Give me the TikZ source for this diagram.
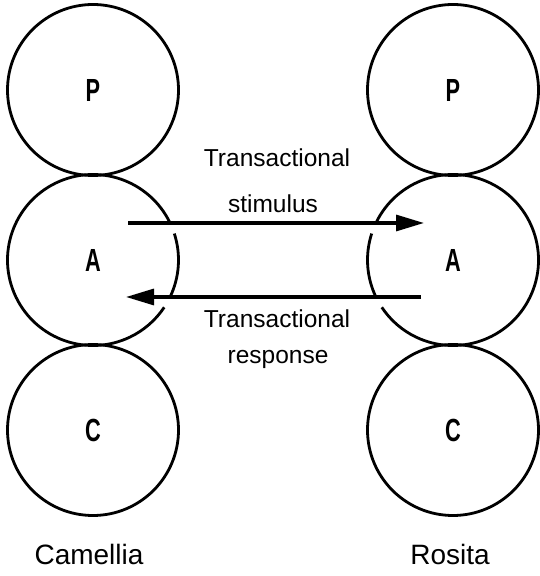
\documentclass[tikz,border=0pt]{standalone}
\usepackage{fontspec}
\usepackage{graphicx}
\setmainfont{Liberation Sans}
\usetikzlibrary{arrows.meta}
\newcommand\egolab[1]{\scalebox{0.68}[1]{\fontsize{32}{32}\selectfont\bfseries #1}}
\begin{document}
\begin{tikzpicture}[x=1pt,y=1pt,
  ego/.style={circle, draw, line width=2.8pt, minimum size=171pt, inner sep=0pt},
  egoA/.style={circle, minimum size=171pt, inner sep=0pt},
  arcline/.style={line width=2.8pt},
  trans/.style={line width=3.2pt, -{Triangle[length=28pt,width=16pt]}},
  midtext/.style={anchor=base, inner sep=0pt, font=\fontsize{24.5}{24.5}\selectfont},
  nametext/.style={anchor=base, inner sep=0pt, font=\fontsize{28}{28}\selectfont}
]
\useasboundingbox (0,0) rectangle (539,576);

% Camellia
\node[ego]  (Pl) at (93,486) {\egolab{P}};
\node[egoA] (Al) at (93,316) {\egolab{A}};
\node[ego]  (Cl) at (93,146) {\egolab{C}};
% Rosita
\node[ego]  (Pr) at (453,486) {\egolab{P}};
\node[egoA] (Ar) at (453,316) {\egolab{A}};
\node[ego]  (Cr) at (453,146) {\egolab{C}};

% broken A circles
\draw[arcline] ([shift={(25.8:85.5)}]Al.center) arc[start angle=25.8, end angle=326.4, radius=85.5];
\draw[arcline] ([shift={(18:85.5)}]Al.center) arc[start angle=18, end angle=-25.8, radius=85.5];
\draw[arcline] ([shift={(154.2:85.5)}]Ar.center) arc[start angle=154.2, end angle=-146.4, radius=85.5];
\draw[arcline] ([shift={(162:85.5)}]Ar.center) arc[start angle=162, end angle=205.8, radius=85.5];

% transactions
\coordinate (s1) at (128,353);
\coordinate (s2) at (424,353);
\coordinate (r1) at (421,279);
\coordinate (r2) at (126,279);
\draw[trans] (s1) -- (s2);
\draw[trans] (r1) -- (r2);

% labels
\node[midtext] (t1) at (277,409) {Transactional};
\node[midtext] (t2) at (273,363) {stimulus};
\node[midtext] (t3) at (277,248) {Transactional};
\node[midtext] (t4) at (278,212) {response};
\node[nametext] (n1) at (89,11) {Camellia};
\node[nametext] (n2) at (450,12) {Rosita};
\end{tikzpicture}
\end{document}
